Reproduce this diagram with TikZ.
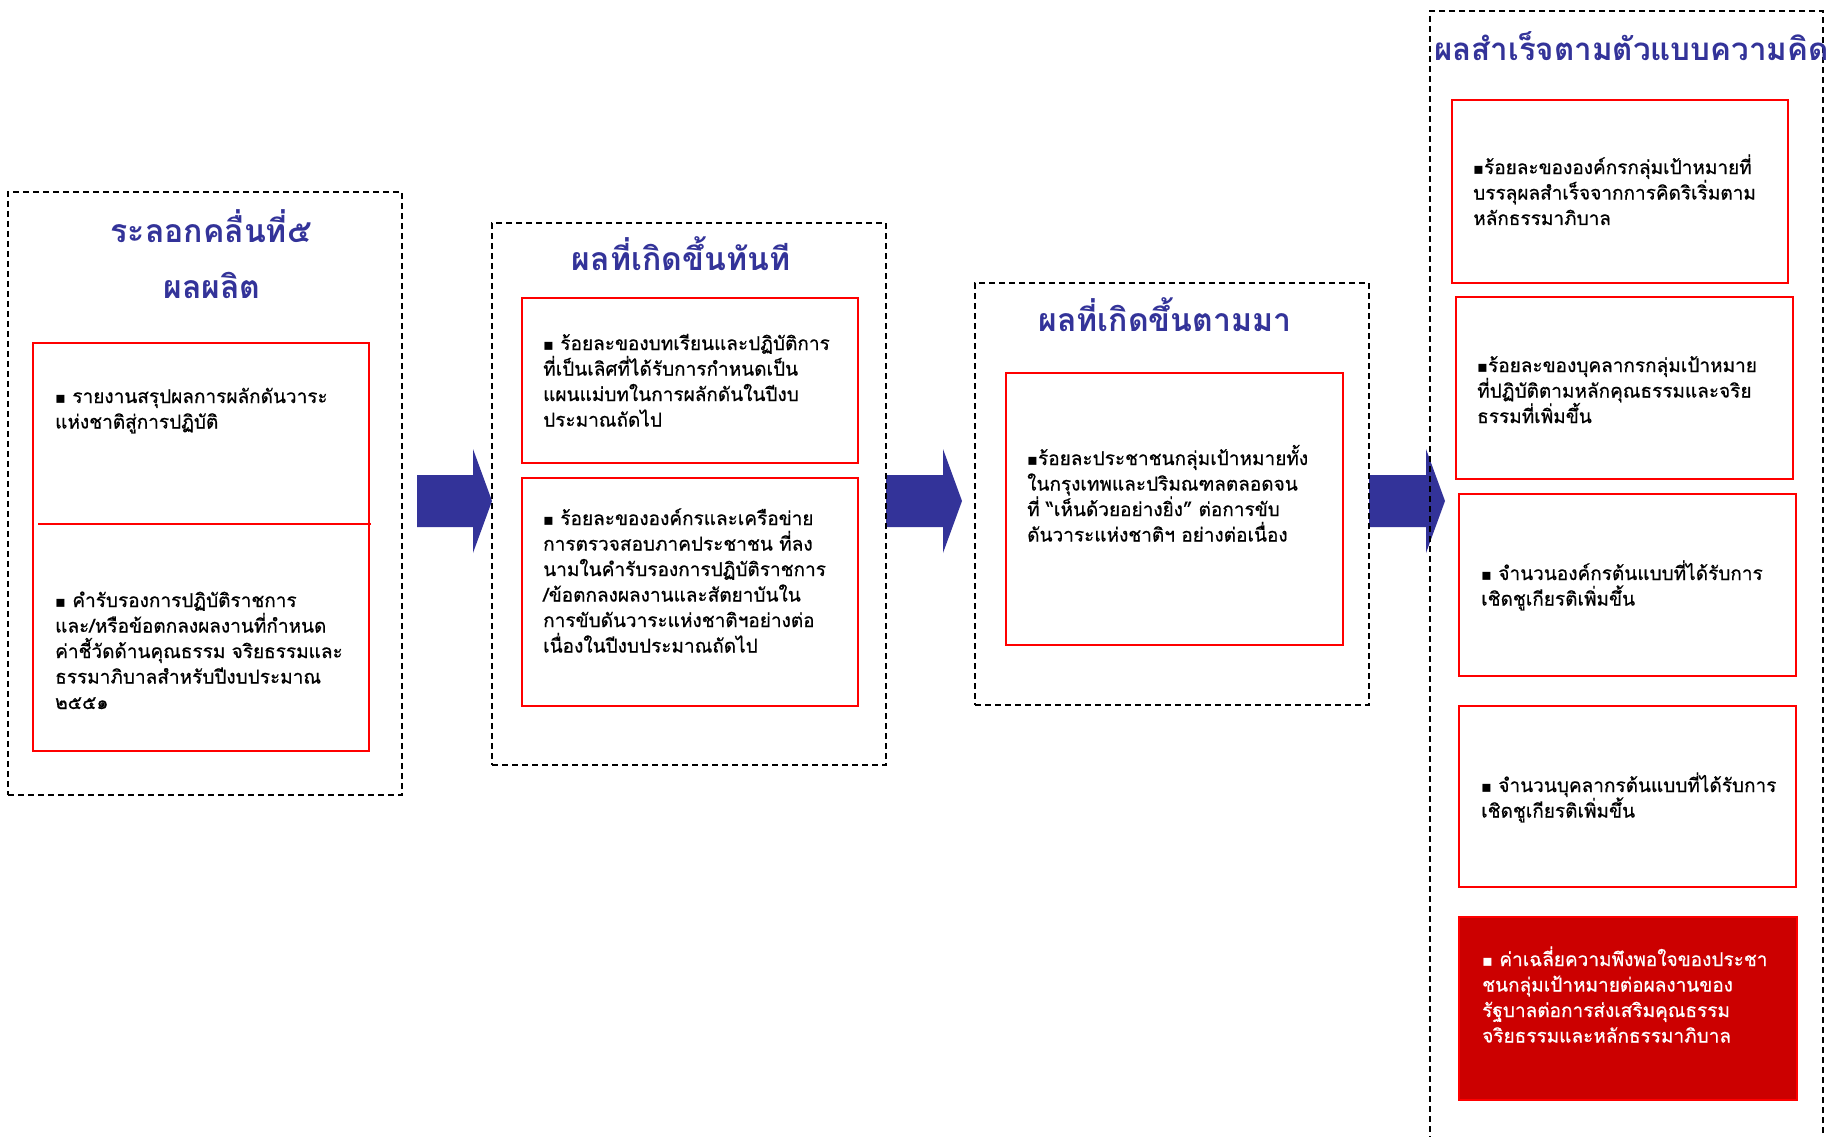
\documentclass[tikz,border=0pt]{standalone}
\usepackage{fontspec}
\setmainfont{Loma}[Script=Thai]
\newfontfamily\bodyfont{Loma}[Script=Thai, FakeBold=0.6]
\newfontfamily\dejavu{DejaVu Sans}
\definecolor{titleblue}{HTML}{333399}
\definecolor{boxred}{HTML}{FF0000}
\definecolor{darkfill}{HTML}{CC0000}
\newcommand\bul{{\dejavu\fontsize{16}{16}\selectfont ▪}}
\newcommand\rectnode[6]{\node[#6, anchor=north west, inner sep=0pt, outer sep=0pt,
  minimum width={(#4-#2)*1pt}, minimum height={(#5-#3)*1pt}] (#1) at (#2,#3) {};}
\newcommand\blockarr[4]{\fill[titleblue] (#2,475) -- (#3,475) -- (#3,449) -- (#4,501)
  -- (#3,553) -- (#3,527) -- (#2,527) -- cycle; \coordinate (#1) at (#4,501);}
\tikzset{
  outerbox/.style={draw=black, line width=1.5pt, dash pattern=on 6pt off 4pt},
  redbox/.style={draw=boxred, line width=2pt},
  filledbox/.style={draw=boxred, fill=darkfill, line width=1.5pt},
  body/.style={anchor=base west, inner sep=0pt, text width=340pt, align=left,
    font=\bodyfont\fontsize{19}{25.5}\selectfont},
  title/.style={anchor=base, inner sep=0pt, text=titleblue,
    font=\bfseries\fontsize{32}{38}\selectfont},
}
\begin{document}
\begin{tikzpicture}[x=1pt, y=-1pt]
\useasboundingbox (0,0) rectangle (1833,1137);
\clip (0,0) rectangle (1833,1137);
\fill[white] (0,0) rectangle (1833,1137);

% block arrows
\blockarr{a1}{417}{473}{492}
\blockarr{a2}{886}{943}{962}
\blockarr{a3}{1369}{1426}{1445}

% column frames
\rectnode{col1}{8}{192}{402}{795}{outerbox}
\rectnode{col2}{492}{223}{886}{765}{outerbox}
\rectnode{col3}{975}{283}{1369}{705}{outerbox}
\rectnode{col4}{1430}{11}{1823}{1170}{outerbox}

% titles
\node[title] (h1a) at (211,242) {ระลอกคลื่นที่๕};
\node[title] (h1b) at (212,298) {ผลผลิต};
\node[title] (h2) at (681,270) {ผลที่เกิดขึ้นทันที};
\node[title] (h3) at (1165,331) {ผลที่เกิดขึ้นตามมา};
\node[title, anchor=base west, font=\bfseries\fontsize{31.3}{38}\selectfont] (h4) at (1434,61) {ผลสำเร็จตามตัวแบบความคิด};

% column 1
\rectnode{b1}{33}{343}{369}{751}{redbox}
\coordinate (d1) at (38,524);
\coordinate (d2) at (371,524);
\draw[boxred, line width=2pt] (d1) -- (d2);
\node[body] (t1a) at (55,403) {\bul\ รายงานสรุปผลการผลักดันวาระ\\แห่งชาติสู่การปฏิบัติ};
\node[body] (t1b) at (55,607) {\bul\ คำรับรองการปฏิบัติราชการ\\และ/หรือข้อตกลงผลงานที่กำหนด\\ค่าชี้วัดด้านคุณธรรม จริยธรรมและ\\ธรรมาภิบาลสำหรับปีงบประมาณ\\๒๕๕๑};

% column 2
\rectnode{b2a}{522}{298}{858}{463}{redbox}
\rectnode{b2b}{522}{478}{858}{706}{redbox}
\node[body] (t2a) at (543,350) {\bul\ ร้อยละของบทเรียนและปฏิบัติการ\\ที่เป็นเลิศที่ได้รับการกำหนดเป็น\\แผนแม่บทในการผลักดันในปีงบ\\ประมาณถัดไป};
\node[body] (t2b) at (543,525) {\bul\ ร้อยละขององค์กรและเครือข่าย\\การตรวจสอบภาคประชาชน ที่ลง\\นามในคำรับรองการปฏิบัติราชการ\\/ข้อตกลงผลงานและสัตยาบันใน\\การขับดันวาระแห่งชาติฯอย่างต่อ\\เนื่องในปีงบประมาณถัดไป};

% column 3
\rectnode{b3}{1006}{373}{1343}{645}{redbox}
\node[body] (t3) at (1027,465) {\bul ร้อยละประชาชนกลุ่มเป้าหมายทั้ง\\ในกรุงเทพและปริมณฑลตลอดจน\\ที่ “เห็นด้วยอย่างยิ่ง” ต่อการขับ\\ดันวาระแห่งชาติฯ อย่างต่อเนื่อง};

% column 4
\rectnode{b4a}{1452}{100}{1788}{283}{redbox}
\rectnode{b4b}{1456}{297}{1793}{479}{redbox}
\rectnode{b4c}{1459}{494}{1796}{676}{redbox}
\rectnode{b4d}{1459}{706}{1796}{887}{redbox}
\rectnode{b4e}{1459}{917}{1797}{1100}{filledbox}
\node[body] (t4a) at (1473,174) {\bul ร้อยละขององค์กรกลุ่มเป้าหมายที่\\บรรลุผลสำเร็จจากการคิดริเริ่มตาม\\หลักธรรมาภิบาล};
\node[body] (t4b) at (1477,372) {\bul ร้อยละของบุคลากรกลุ่มเป้าหมาย\\ที่ปฏิบัติตามหลักคุณธรรมและจริย\\ธรรมที่เพิ่มขึ้น};
\node[body] (t4c) at (1481,580) {\bul\ จำนวนองค์กรต้นแบบที่ได้รับการ\\เชิดชูเกียรติเพิ่มขึ้น};
\node[body] (t4d) at (1481,792) {\bul\ จำนวนบุคลากรต้นแบบที่ได้รับการ\\เชิดชูเกียรติเพิ่มขึ้น};
\node[body, text=white] (t4e) at (1482,966) {\bul\ ค่าเฉลี่ยความพึงพอใจของประชา\\ชนกลุ่มเป้าหมายต่อผลงานของ\\รัฐบาลต่อการส่งเสริมคุณธรรม\\จริยธรรมและหลักธรรมาภิบาล};
\end{tikzpicture}
\end{document}
